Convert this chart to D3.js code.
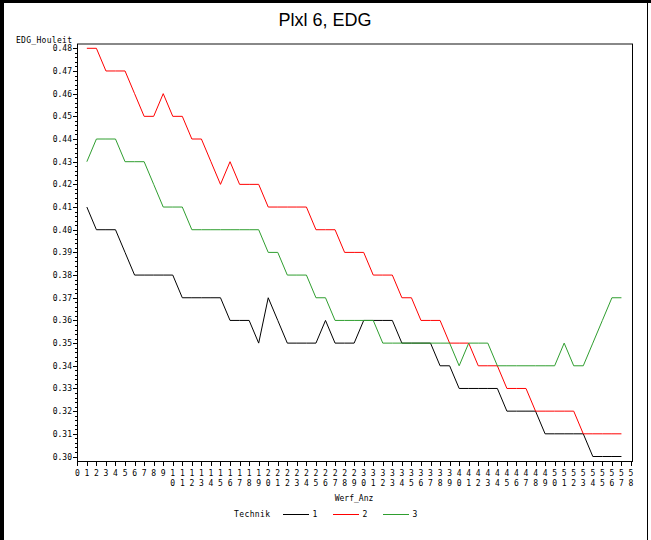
<!DOCTYPE html>
<html>
<head>
<meta charset="utf-8">
<script src="https://cdn.jsdelivr.net/npm/d3@7"></script>
<style>
  html, body { margin: 0; padding: 0; background: #fff; }
  svg { display: block; }
</style>
</head>
<body>
<div id="chart"></div>
<script>
// ── Data ─────────────────────────────────────────────────────────────────────
const WERF_ANZ = d3.range(1, 58);           // x values 1..57
const X_TICKS  = d3.range(0, 59);           // axis labels 0..58
const Y_TICKS  = d3.range(30, 49).map(v => v / 100);

const TECHNIK = ["1", "2", "3"];
const COLORS  = ["#000000", "#ff0000", "#2f9e2f"];

const T1 = [0.41,0.40,0.40,0.40,0.39,0.38,0.38,0.38,0.38,0.38,
            0.37,0.37,0.37,0.37,0.37,0.36,0.36,0.36,0.35,0.37,
            0.36,0.35,0.35,0.35,0.35,0.36,0.35,0.35,0.35,0.36,
            0.36,0.36,0.36,0.35,0.35,0.35,0.35,0.34,0.34,0.33,
            0.33,0.33,0.33,0.33,0.32,0.32,0.32,0.32,0.31,0.31,
            0.31,0.31,0.31,0.30,0.30,0.30,0.30];
const T2 = [0.48,0.48,0.47,0.47,0.47,0.46,0.45,0.45,0.46,0.45,
            0.45,0.44,0.44,0.43,0.42,0.43,0.42,0.42,0.42,0.41,
            0.41,0.41,0.41,0.41,0.40,0.40,0.40,0.39,0.39,0.39,
            0.38,0.38,0.38,0.37,0.37,0.36,0.36,0.36,0.35,0.35,
            0.35,0.34,0.34,0.34,0.33,0.33,0.33,0.32,0.32,0.32,
            0.32,0.32,0.31,0.31,0.31,0.31,0.31];
const T3 = [0.43,0.44,0.44,0.44,0.43,0.43,0.43,0.42,0.41,0.41,
            0.41,0.40,0.40,0.40,0.40,0.40,0.40,0.40,0.40,0.39,
            0.39,0.38,0.38,0.38,0.37,0.37,0.36,0.36,0.36,0.36,
            0.36,0.35,0.35,0.35,0.35,0.35,0.35,0.35,0.35,0.34,
            0.35,0.35,0.35,0.34,0.34,0.34,0.34,0.34,0.34,0.34,
            0.35,0.34,0.34,0.35,0.36,0.37,0.37];
const SERIES = [T1, T2, T3];

// ── Layout ───────────────────────────────────────────────────────────────────
const W = 651, H = 540;
const FRAME = { left: 77, right: 632, top: 44, bottom: 461 };
const MONO = "'DejaVu Sans Mono', monospace";

const svg = d3.select("#chart").append("svg")
  .attr("width", W).attr("height", H);

// outer window border
svg.append("rect").attr("x", 0).attr("y", 0).attr("width", 4).attr("height", H).attr("fill", "#000");
svg.append("rect").attr("x", 0).attr("y", 0).attr("width", W).attr("height", 3).attr("fill", "#000");
svg.append("rect").attr("x", 647).attr("y", 0).attr("width", 1).attr("height", H).attr("fill", "#000");

// title
svg.append("text")
  .attr("x", 325).attr("y", 26)
  .attr("text-anchor", "middle")
  .attr("font-family", "'Liberation Sans', Arial, sans-serif")
  .attr("font-size", 18)
  .attr("fill", "#000")
  .text("Plxl 6, EDG");

const x = d3.scaleLinear().domain([0, 58]).range([77.3, 631]);
const y = d3.scaleLinear().domain([0.30, 0.48]).range([456.5, 48.3]);

// plot frame
svg.append("line")
  .attr("x1", FRAME.left).attr("x2", FRAME.right + 1)
  .attr("y1", FRAME.top).attr("y2", FRAME.top)
  .attr("stroke", "#888").attr("stroke-width", 2);
svg.append("line")
  .attr("x1", FRAME.right + 0.5).attr("x2", FRAME.right + 0.5)
  .attr("y1", FRAME.top).attr("y2", FRAME.bottom)
  .attr("stroke", "#000").attr("stroke-width", 1);
svg.append("line")
  .attr("x1", FRAME.left + 0.5).attr("x2", FRAME.left + 0.5)
  .attr("y1", FRAME.top).attr("y2", FRAME.bottom + 0.5)
  .attr("stroke", "#000").attr("stroke-width", 1);
svg.append("line")
  .attr("x1", FRAME.left).attr("x2", FRAME.right + 1)
  .attr("y1", FRAME.bottom + 0.5).attr("y2", FRAME.bottom + 0.5)
  .attr("stroke", "#000").attr("stroke-width", 1);

// y ticks: major every 0.01, minor every 0.002
const minor = d3.range(150, 241).map(v => v / 500).filter(v => Math.round(v * 500) % 5 !== 0);
svg.append("g").selectAll("line").data(minor).join("line")
  .attr("x1", FRAME.left - 2).attr("x2", FRAME.left)
  .attr("y1", d => Math.round(y(d)) + 0.5).attr("y2", d => Math.round(y(d)) + 0.5)
  .attr("stroke", "#000");
svg.append("g").selectAll("line").data(Y_TICKS).join("line")
  .attr("x1", FRAME.left - 4).attr("x2", FRAME.left)
  .attr("y1", d => Math.round(y(d)) + 0.5).attr("y2", d => Math.round(y(d)) + 0.5)
  .attr("stroke", "#000");
svg.append("g").selectAll("text").data(Y_TICKS).join("text")
  .attr("x", 72).attr("y", d => y(d) + 3)
  .attr("text-anchor", "end")
  .attr("font-family", MONO).attr("font-size", 8)
  .attr("fill", "#000")
  .text(d => d.toFixed(2));

// y axis title
svg.append("text")
  .attr("x", 16).attr("y", 43)
  .attr("font-family", MONO).attr("font-size", 8)
  .attr("letter-spacing", 0.3)
  .attr("fill", "#000")
  .text("EDG_Houleit");

// x ticks
svg.append("g").selectAll("line").data(X_TICKS).join("line")
  .attr("x1", d => Math.round(x(d)) + 0.5).attr("x2", d => Math.round(x(d)) + 0.5)
  .attr("y1", FRAME.bottom).attr("y2", FRAME.bottom + 5)
  .attr("stroke", "#000");
const xl = svg.append("g").selectAll("g").data(X_TICKS).join("g")
  .attr("transform", d => `translate(${x(d)},0)`);
xl.selectAll("text").data(d => String(d).split("")).join("text")
  .attr("x", 0).attr("y", (c, i) => 476 + i * 10)
  .attr("text-anchor", "middle")
  .attr("font-family", MONO).attr("font-size", 8)
  .attr("fill", "#000")
  .text(c => c);

// x axis title
svg.append("text")
  .attr("x", 354).attr("y", 501)
  .attr("text-anchor", "middle")
  .attr("font-family", MONO).attr("font-size", 8)
  .attr("fill", "#000")
  .text("Werf_Anz");

// series
const line = d3.line().x((d, i) => x(WERF_ANZ[i])).y(d => y(d));
SERIES.forEach(function (vals, si) {
  svg.append("path")
    .datum(vals)
    .attr("d", line)
    .attr("fill", "none")
    .attr("stroke", COLORS[si])
    .attr("stroke-width", 1);
});

// legend
svg.append("text")
  .attr("x", 234).attr("y", 517)
  .attr("font-family", MONO).attr("font-size", 8)
  .attr("letter-spacing", 0.4)
  .attr("fill", "#000")
  .text("Technik");
TECHNIK.forEach(function (t, i) {
  const x0 = 283 + i * 50;
  svg.append("line")
    .attr("x1", x0).attr("x2", x0 + 26)
    .attr("y1", 514.5).attr("y2", 514.5)
    .attr("stroke", COLORS[i]).attr("stroke-width", 1);
  svg.append("text")
    .attr("x", x0 + 32).attr("y", 517)
    .attr("text-anchor", "middle")
    .attr("font-family", MONO).attr("font-size", 8)
    .attr("fill", "#000")
    .text(t);
});
</script>
</body>
</html>
